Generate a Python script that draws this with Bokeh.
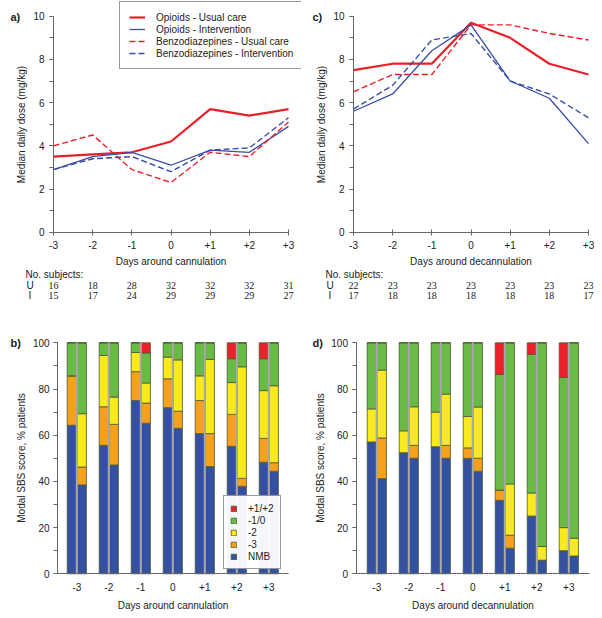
from bokeh.plotting import figure
from bokeh.layouts import column, row
from bokeh.models import Range1d, FixedTicker, Legend, LegendItem, Label, ColumnDataSource
from bokeh.transform import dodge
from bokeh.embed import file_html
from bokeh.resources import INLINE

# ---------------- data ----------------
days = [-3, -2, -1, 0, 1, 2, 3]
day_labels = ["-3", "-2", "-1", "0", "+1", "+2", "+3"]

# panel a: around cannulation (median daily dose, mg/kg)
opi_uc_a = [3.5, 3.6, 3.7, 4.2, 5.7, 5.4, 5.7]
opi_int_a = [2.9, 3.5, 3.7, 3.1, 3.8, 3.7, 4.9]
benz_uc_a = [4.0, 4.5, 2.9, 2.3, 3.7, 3.5, 5.1]
benz_int_a = [2.9, 3.4, 3.5, 2.8, 3.8, 3.9, 5.3]

# panel c: around decannulation
opi_uc_c = [7.5, 7.8, 7.8, 9.7, 9.0, 7.8, 7.3]
opi_int_c = [5.6, 6.4, 8.4, 9.6, 7.0, 6.2, 4.1]
benz_uc_c = [6.5, 7.3, 7.3, 9.6, 9.6, 9.2, 8.9]
benz_int_c = [5.7, 6.8, 8.9, 9.2, 7.0, 6.4, 5.3]

# number of subjects
n_u_cann = [16, 18, 28, 32, 32, 32, 31]
n_i_cann = [15, 17, 24, 29, 29, 29, 27]
n_u_decann = [22, 23, 23, 23, 23, 23, 23]
n_i_decann = [17, 18, 18, 18, 18, 18, 17]

series_names = ["Opioids - Usual care", "Opioids - Intervention",
                "Benzodiazepines - Usual care", "Benzodiazepines - Intervention"]

sbs_levels = ["NMB", "-3", "-2", "-1/0", "+1/+2"]
sbs_colors = ["#3451a1", "#f6a11c", "#f8ea1e", "#6aba46", "#e8212b"]

# panel b: modal SBS score around cannulation (% patients), U = usual care, I = intervention
b_u_nmb = [64.3, 55.6, 75.0, 71.9, 60.7, 55.2, 48.3]
b_u_m3 = [21.4, 16.7, 12.5, 12.5, 14.3, 13.8, 10.3]
b_u_m2 = [0.0, 22.2, 8.3, 9.4, 10.7, 13.8, 20.7]
b_u_m10 = [14.3, 5.5, 4.2, 6.2, 14.3, 10.3, 13.8]
b_u_p12 = [0.0, 0.0, 0.0, 0.0, 0.0, 6.9, 6.9]

b_i_nmb = [38.5, 47.1, 65.2, 63.0, 46.4, 37.9, 44.4]
b_i_m3 = [7.7, 17.6, 8.7, 7.4, 14.3, 3.4, 3.7]
b_i_m2 = [23.1, 11.8, 8.7, 22.2, 32.1, 48.3, 33.3]
b_i_m10 = [30.7, 23.5, 13.0, 7.4, 7.2, 10.4, 18.6]
b_i_p12 = [0.0, 0.0, 4.4, 0.0, 0.0, 0.0, 0.0]

# panel d: modal SBS score around decannulation
d_u_nmb = [57.1, 52.4, 55.0, 50.0, 31.8, 25.0, 10.0]
d_u_m3 = [0.0, 0.0, 0.0, 4.5, 4.5, 0.0, 0.0]
d_u_m2 = [14.3, 9.5, 15.0, 13.6, 0.0, 10.0, 10.0]
d_u_m10 = [28.6, 38.1, 30.0, 31.9, 50.0, 60.0, 65.0]
d_u_p12 = [0.0, 0.0, 0.0, 0.0, 13.7, 5.0, 15.0]

d_i_nmb = [41.2, 50.0, 50.0, 44.4, 11.1, 5.9, 7.7]
d_i_m3 = [17.6, 5.6, 5.6, 5.6, 5.6, 0.0, 0.0]
d_i_m2 = [29.4, 16.7, 22.2, 22.2, 22.2, 5.9, 7.7]
d_i_m10 = [11.8, 27.7, 22.2, 27.8, 61.1, 88.2, 84.6]
d_i_p12 = [0.0, 0.0, 0.0, 0.0, 0.0, 0.0, 0.0]

# ---------------- style / layout ----------------
FONT = "Liberation Sans"
TXT = "#222222"
AX = "#666666"
RED = "#e8202a"
BLUE = "#3a4ea3"
FS = "10px"
W = 301                 # width of each column figure
H_LINE = 268            # height of the dose panels
H_CNT = 32              # height of the subject-count strips
H_BAR = 316             # height of the SBS panels
label_overrides = {d: lab for d, lab in zip(days, day_labels)}


def style_axes(p):
    for ax in p.axis:
        ax.axis_line_color = AX
        ax.major_tick_line_color = AX
        ax.minor_tick_line_color = AX
        ax.major_label_text_color = TXT
        ax.major_label_text_font = FONT
        ax.major_label_text_font_size = FS
        ax.axis_label_text_font = FONT
        ax.axis_label_text_font_size = FS
        ax.axis_label_text_font_style = "normal"
        ax.axis_label_text_color = TXT
    p.grid.visible = False
    p.outline_line_color = None


def panel_label(p, txt, x, y):
    p.add_layout(Label(x=x, y=y, x_units="screen", y_units="screen", text=txt,
                       text_font=FONT, text_font_size="11px", text_font_style="bold",
                       text_color=TXT, text_baseline="middle"))


DAY_PX = 235 / 6.0   # px per day on dose panels
DOSE_PX = 21.6       # px per mg/kg
DOSE_ZERO = 36.3     # px from bottom of figure to dose 0


def line_panel(letter, xlab, vals, x0px, with_legend, lab_x):
    p = figure(width=W, height=H_LINE, min_border=0,
               x_range=Range1d(-3 - x0px / DAY_PX, -3 + (W - x0px) / DAY_PX),
               y_range=Range1d(-DOSE_ZERO / DOSE_PX, (H_LINE - DOSE_ZERO) / DOSE_PX),
               output_backend="svg", toolbar_location=None)
    styles = [(RED, 2.2, "solid"), (BLUE, 1.3, "solid"), (RED, 1.4, "6 3"), (BLUE, 1.4, "6 3")]
    rends = []
    for v, (c, w, dash) in zip(vals, styles):
        rends.append(p.line(days, v, line_color=c, line_width=w, line_dash=dash))
    p.xaxis.fixed_location = 0
    p.xaxis.bounds = (-3, 3)
    p.xaxis.ticker = FixedTicker(ticks=days, minor_ticks=[])
    p.xaxis.major_label_overrides = label_overrides
    p.xaxis.axis_label = xlab
    p.xaxis.major_tick_in = 3
    p.xaxis.major_tick_out = 3
    p.xaxis.major_label_standoff = 6
    p.xaxis.axis_label_standoff = 3
    p.yaxis.fixed_location = -3
    p.yaxis.bounds = (0, 10)
    p.yaxis.ticker = FixedTicker(ticks=[0, 2, 4, 6, 8, 10], minor_ticks=list(range(11)))
    p.yaxis.axis_label = "Median daily dose (mg/kg)"
    p.yaxis.major_tick_in = 0
    p.yaxis.major_tick_out = 4
    p.yaxis.minor_tick_in = 0
    p.yaxis.minor_tick_out = 4
    p.yaxis.major_label_standoff = 5
    p.yaxis.axis_label_standoff = 3
    style_axes(p)
    if with_legend:
        items = [LegendItem(label=n, renderers=[r]) for n, r in zip(series_names, rends)]
        leg = Legend(items=items, location=(119, 199), glyph_width=16, glyph_height=12,
                     label_height=12, spacing=0, padding=9, margin=0, label_standoff=11,
                     label_text_font=FONT, label_text_font_size="10px",
                     label_text_color=TXT, border_line_color="#333333",
                     background_fill_alpha=1.0)
        p.add_layout(leg)
    panel_label(p, letter, lab_x, H_LINE - 16)
    return p


def count_panel(x0px, u_counts, i_counts):
    p = figure(width=W, height=H_CNT, min_border=0,
               x_range=Range1d(-3 - x0px / DAY_PX, -3 + (W - x0px) / DAY_PX),
               y_range=Range1d(H_CNT, 0), x_axis_location=None, y_axis_location=None,
               output_backend="svg", toolbar_location=None)
    p.grid.visible = False
    p.outline_line_color = None
    kw = dict(text_font_size=FS, text_color=TXT, text_align="center", text_baseline="middle")
    r1 = p.text(days, [17] * 7, text=[str(n) for n in u_counts], **kw)
    r2 = p.text(days, [27] * 7, text=[str(n) for n in i_counts], **kw)
    r1.glyph.text_font = FONT
    r2.glyph.text_font = FONT
    for txt, x, y in [("No. subjects:", x0px - 28, 26), ("U", x0px - 27, 15), ("I", x0px - 25, 5)]:
        p.add_layout(Label(x=x, y=y, x_units="screen", y_units="screen", text=txt,
                           text_font=FONT, text_font_size=FS, text_color=TXT,
                           text_baseline="middle"))
    return p


BAR_PX = 2.31        # px per percent
BAR_ZERO = 42.7      # px from figure bottom to 0 %
BAR_DAY = 32.0       # px per day


def bar_panel(letter, xlab, u_stack, i_stack, x0px, ax_lo, with_legend, lab_x):
    p = figure(width=W, height=H_BAR, min_border=0,
               x_range=Range1d(-3 - x0px / BAR_DAY, -3 + (W - x0px) / BAR_DAY),
               y_range=Range1d(-BAR_ZERO / BAR_PX, (H_BAR - BAR_ZERO) / BAR_PX),
               output_backend="svg", toolbar_location=None)
    src_u = ColumnDataSource(dict(day=days, **{lv: v for lv, v in zip(sbs_levels, u_stack)}))
    src_i = ColumnDataSource(dict(day=days, **{lv: v for lv, v in zip(sbs_levels, i_stack)}))
    common = dict(width=0.29, fill_color=sbs_colors, line_color="#4b5a35", line_width=0.8)
    ru = p.vbar_stack(sbs_levels, x=dodge("day", -0.155), source=src_u, **common)
    p.vbar_stack(sbs_levels, x=dodge("day", 0.155), source=src_i, **common)
    # grey divider between the paired bars
    p.segment(x0=days, y0=[0] * 7, x1=days, y1=[100] * 7, line_color="#a9a9a9", line_width=2)
    # U / I labels above each pair
    kw = dict(text_font_size=FS, text_color=TXT, text_align="center", text_baseline="middle")
    tu = p.text(x=dodge("day", -0.155), y=104.5, text="U", source=src_u, **kw)
    ti = p.text(x=dodge("day", 0.155), y=104.5, text="I", source=src_i, **kw)
    tu.glyph.text_font = FONT
    ti.glyph.text_font = FONT
    p.xaxis.fixed_location = 0
    p.xaxis.bounds = (ax_lo, -ax_lo)
    p.xaxis.ticker = FixedTicker(ticks=days, minor_ticks=[])
    p.xaxis.major_label_overrides = label_overrides
    p.xaxis.axis_label = xlab
    p.xaxis.major_tick_in = 0
    p.xaxis.major_tick_out = 0
    p.xaxis.major_label_standoff = 9
    p.xaxis.axis_label_standoff = 6
    p.yaxis.fixed_location = ax_lo
    p.yaxis.bounds = (0, 100)
    p.yaxis.ticker = FixedTicker(ticks=[0, 20, 40, 60, 80, 100], minor_ticks=list(range(0, 101, 10)))
    p.yaxis.axis_label = "Modal SBS score, % patients"
    p.yaxis.major_tick_in = 0
    p.yaxis.major_tick_out = 4
    p.yaxis.minor_tick_in = 0
    p.yaxis.minor_tick_out = 4
    p.yaxis.major_label_standoff = 4
    p.yaxis.axis_label_standoff = 3
    style_axes(p)
    if with_legend:
        items = [LegendItem(label=lv, renderers=[r]) for lv, r in zip(sbs_levels, ru)][::-1]
        leg = Legend(items=items, location=(223, 47), glyph_width=7, glyph_height=7,
                     label_height=12, spacing=0, padding=6, margin=0, label_standoff=11,
                     label_text_font=FONT, label_text_font_size="10px",
                     label_text_color=TXT, border_line_color="#333333")
        p.add_layout(leg)
    panel_label(p, letter, lab_x, H_BAR - 42)
    return p


pa = line_panel("a)", "Days around cannulation",
                [opi_uc_a, opi_int_a, benz_uc_a, benz_int_a], 53, True, 10)
pc = line_panel("c)", "Days around decannulation",
                [opi_uc_c, opi_int_c, benz_uc_c, benz_int_c], 52, False, 11)
ca = count_panel(53, n_u_cann, n_i_cann)
cc = count_panel(52, n_u_decann, n_i_decann)
pb = bar_panel("b)", "Days around cannulation",
               [b_u_nmb, b_u_m3, b_u_m2, b_u_m10, b_u_p12],
               [b_i_nmb, b_i_m3, b_i_m2, b_i_m10, b_i_p12], 76.3, -3.6, True, 10)
pd = bar_panel("d)", "Days around decannulation",
               [d_u_nmb, d_u_m3, d_u_m2, d_u_m10, d_u_p12],
               [d_i_nmb, d_i_m3, d_i_m2, d_i_m10, d_i_p12], 75.3, -3.65, False, 11)

layout = column(row(pa, pc), row(ca, cc), row(pb, pd))
open("out.html", "w").write(file_html(layout, INLINE))
